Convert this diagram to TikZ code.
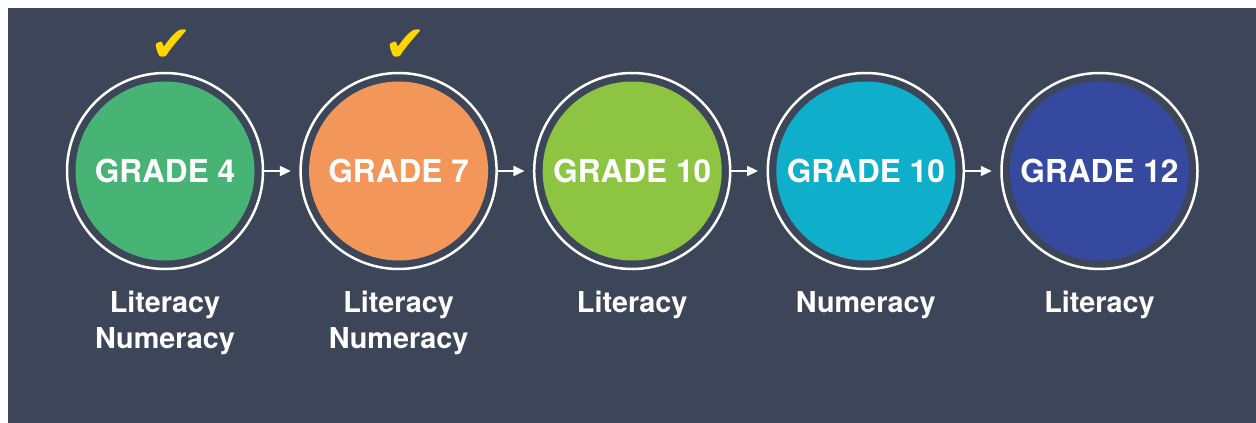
\documentclass[tikz,border=0pt]{standalone}
\usepackage{fontspec}
\setmainfont{TeX Gyre Heros}
\newfontfamily\checkfont{DejaVu Sans}
\usepackage{tikz}
\usetikzlibrary{arrows.meta}

\definecolor{panelbg}{HTML}{3D4659}
\definecolor{gradegreen}{HTML}{47B475}
\definecolor{gradeorange}{HTML}{F2965A}
\definecolor{gradelime}{HTML}{8DC543}
\definecolor{gradecyan}{HTML}{0FAECB}
\definecolor{gradeblue}{HTML}{354A9E}
\definecolor{tickyellow}{HTML}{FFD600}

\tikzset{
  ring/.style={circle, draw=white, line width=2.5pt, minimum size=196pt, inner sep=0pt},
  disc/.style={circle, fill=#1, minimum size=179pt, inner sep=0pt},
  gradetext/.style={anchor=base, inner sep=0pt, text=white, font=\bfseries\fontsize{31.6}{36}\selectfont},
  subject/.style={anchor=north, inner sep=0pt, align=center, text=white, font=\bfseries\fontsize{28.8}{35.5}\selectfont},
  tick/.style={inner sep=0pt, text=tickyellow, font=\checkfont\fontsize{50}{50}\selectfont},
  flow/.style={white, line width=2pt, -{Triangle[length=11pt,width=10pt]}, shorten >=8.5pt}
}

\begin{document}
\begin{tikzpicture}[x=1pt,y=-1pt]
			%%%%% START %%%%%
			
			\fill[white] (0,0) rectangle (1256,423);
			\fill[panelbg] (8,8) rectangle (1256,423);
			\useasboundingbox (0,0) rectangle (1256,423);
			
			% grade 4
			\node[disc=gradegreen] (g4) at (165,171) {};
			\node[ring] (g4ring) at (165,171) {};
			\node[gradetext] (g4txt) at (165,182) {GRADE 4};
			\node[subject] (g4sub) at (165,291) {Literacy\\Numeracy};
			\node[tick] (g4tick) at (171.5,46) {✔};
			
			% grade 7
			\node[disc=gradeorange] (g7) at (398.6,171) {};
			\node[ring] (g7ring) at (398.6,171) {};
			\node[gradetext] (g7txt) at (398.6,182) {GRADE 7};
			\node[subject] (g7sub) at (398.6,291) {Literacy\\Numeracy};
			\node[tick] (g7tick) at (405,46) {✔};
			
			% grade 10 literacy
			\node[disc=gradelime] (g10a) at (632.2,171) {};
			\node[ring] (g10aring) at (632.2,171) {};
			\node[gradetext] (g10atxt) at (632.2,182) {GRADE 10};
			\node[subject] (g10asub) at (632.2,291) {Literacy};
			
			% grade 10 numeracy
			\node[disc=gradecyan] (g10b) at (865.8,171) {};
			\node[ring] (g10bring) at (865.8,171) {};
			\node[gradetext] (g10btxt) at (865.8,182) {GRADE 10};
			\node[subject] (g10bsub) at (865.8,291) {Numeracy};
			
			% grade 12
			\node[disc=gradeblue] (g12) at (1099.5,171) {};
			\node[ring] (g12ring) at (1099.5,171) {};
			\node[gradetext] (g12txt) at (1099.5,182) {GRADE 12};
			\node[subject] (g12sub) at (1099.5,291) {Literacy};
			
			% arrows
			\draw[flow] (g4ring.east) -- (g7ring.west);
			\draw[flow] (g7ring.east) -- (g10aring.west);
			\draw[flow] (g10aring.east) -- (g10bring.west);
			\draw[flow] (g10bring.east) -- (g12ring.west);
			
			%%%%% END %%%%%
\end{tikzpicture}
\end{document}
